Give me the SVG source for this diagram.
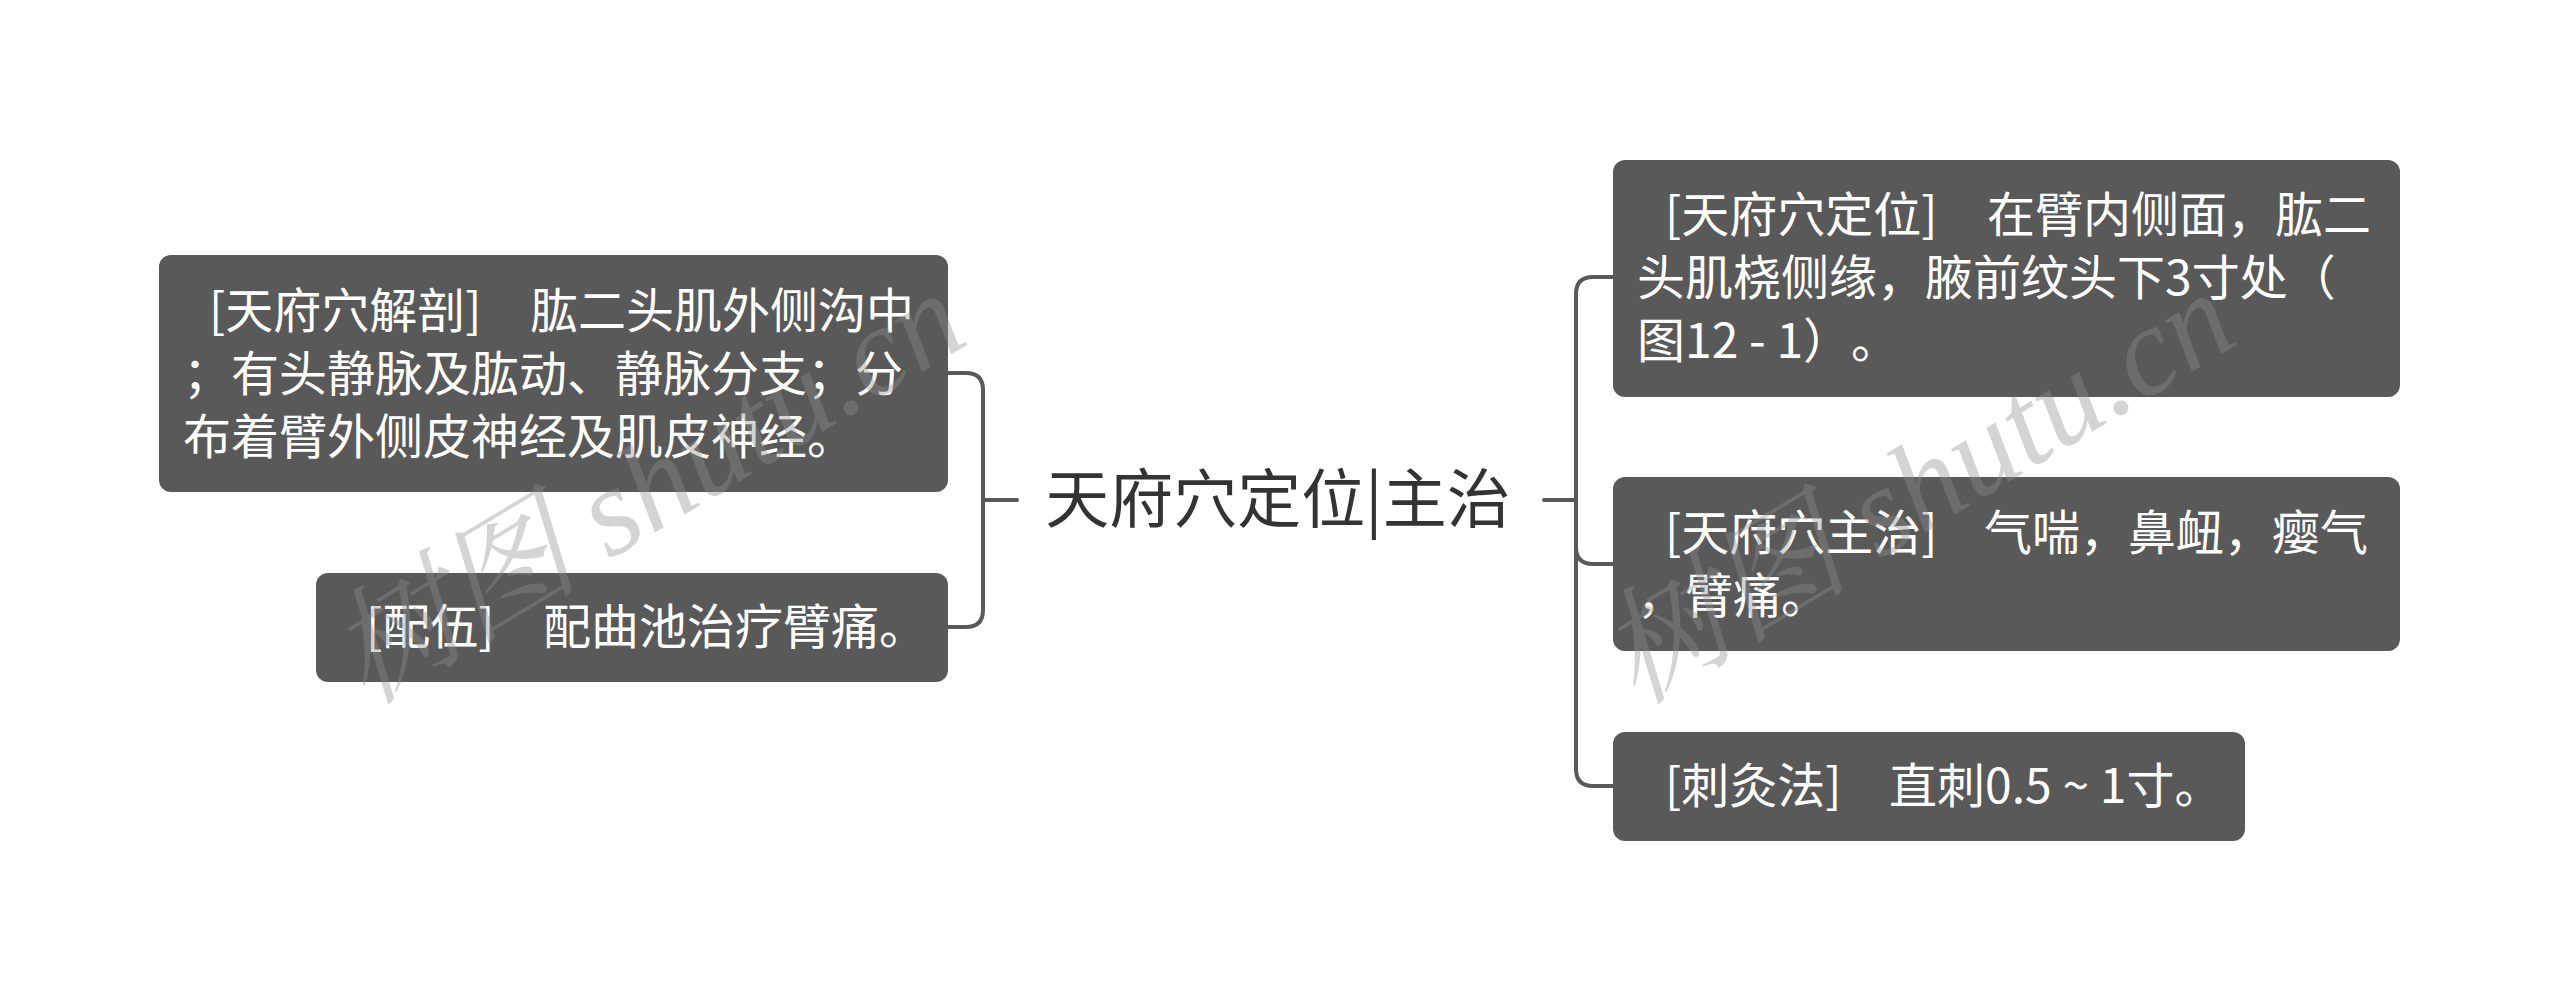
<svg xmlns="http://www.w3.org/2000/svg" width="2560" height="1001" viewBox="0 0 2560 1001">
<style>
.node{fill:#595959;}
.t{font-family:"Noto Sans CJK SC","Noto Sans",sans-serif;font-size:48px;fill:#ffffff;text-spacing-trim:space-all;}
.title{font-family:"Noto Sans CJK SC","Noto Sans",sans-serif;font-size:64px;fill:#333333;text-anchor:middle;}
.conn{fill:none;stroke:#595959;stroke-width:4;stroke-linecap:round;}
.wm{font-family:"Liberation Serif","Noto Serif CJK SC","Noto Sans CJK SC",serif;font-style:italic;font-size:126px;fill:#8f8f8f;fill-opacity:0.38;}
</style>
<rect width="2560" height="1001" fill="#ffffff"/>
<g id="connectors">
<path class="conn" d="M1017 500 H983"/>
<path class="conn" d="M948 373 H966 Q983 373 983 390 V610 Q983 627 966 627 H948"/>
<path class="conn" d="M1544 500 H1576"/>
<path class="conn" d="M1613 277 H1593 Q1576 277 1576 294 V769 Q1576 786 1593 786 H1613"/>
<path class="conn" d="M1576 547 Q1576 564 1593 564 H1613"/>
</g>
<g id="root">
<text class="title" x="1278" y="522">天府穴定位|主治</text>
</g>
<g id="node-jiepou">
<rect class="node" x="159" y="255" width="789" height="237" rx="12"/>
<text class="t" y="328"><tspan x="209">[天府穴解剖]</tspan><tspan x="530">肱二头肌外侧沟中</tspan></text>
<text class="t" x="183" y="391">；有头静脉及肱动、静脉分支；分</text>
<text class="t" x="183" y="454">布着臂外侧皮神经及肌皮神经。</text>
</g>
<g id="node-peiwu">
<rect class="node" x="316" y="573" width="632" height="109" rx="12"/>
<text class="t" y="644"><tspan x="366">[配伍]</tspan><tspan x="543">配曲池治疗臂痛。</tspan></text>
</g>
<g id="node-dingwei">
<rect class="node" x="1613" y="160" width="787" height="237" rx="12"/>
<text class="t" y="232"><tspan x="1665">[天府穴定位]</tspan><tspan x="1987">在臂内侧面，肱二</tspan></text>
<text class="t" x="1637" y="295">头肌桡侧缘，腋前纹头下3寸处（</text>
<text class="t" x="1637" y="358">图12 - 1）。</text>
</g>
<g id="node-zhuzhi">
<rect class="node" x="1613" y="477" width="787" height="174" rx="12"/>
<text class="t" y="550"><tspan x="1665">[天府穴主治]</tspan><tspan x="1984">气喘，鼻衄，瘿气</tspan></text>
<text class="t" x="1637" y="613">，臂痛。</text>
</g>
<g id="node-cijiu">
<rect class="node" x="1613" y="732" width="632" height="109" rx="12"/>
<text class="t" y="803"><tspan x="1665">[刺灸法]</tspan><tspan x="1889">直刺0.5 ~ 1寸。</tspan></text>
</g>
<g id="watermark">
<text class="wm" transform="translate(366 706) rotate(-31)">树图 shutu.cn</text>
<text class="wm" transform="translate(1636 706) rotate(-31)">树图 shutu.cn</text>
</g>
</svg>
